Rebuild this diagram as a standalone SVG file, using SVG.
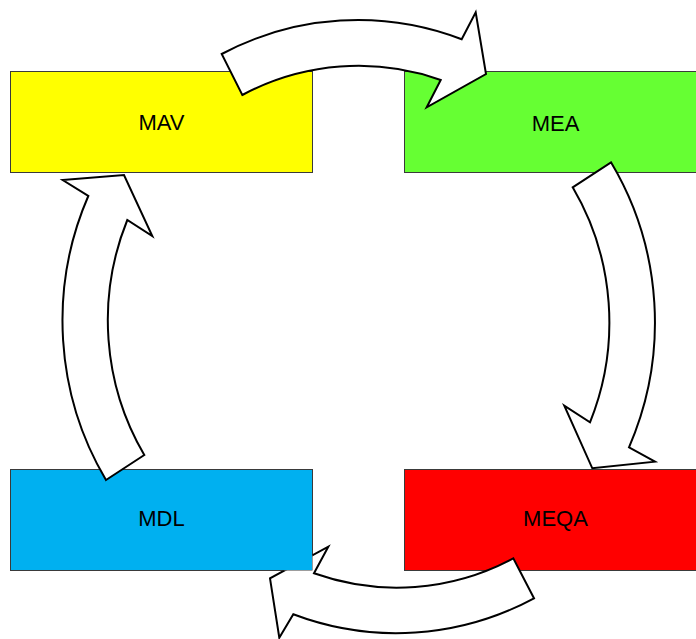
<svg xmlns="http://www.w3.org/2000/svg" width="696" height="639" viewBox="0 0 696 639">
  <style>
    .box { stroke: #3a3a3a; stroke-width: 1; }
    .label { font-family: "Liberation Sans", Arial, sans-serif; font-size: 22px; fill: #000; text-anchor: middle; }
    .arrow { fill: #fff; stroke: #000; stroke-width: 2; stroke-linejoin: miter; stroke-miterlimit: 10; }
  </style>
  <defs>
    <!-- keeps the lower arrow underneath the MDL box -->
    <clipPath id="outsideMDL">
      <path clip-rule="evenodd" d="M0,0 H696 V639 H0 Z M10.5,469.5 H312.5 V570.5 H10.5 Z"/>
    </clipPath>
  </defs>
  <rect width="696" height="639" fill="#fff"/>

  <g id="node-mav">
    <rect class="box" x="10.5" y="71.5" width="302" height="101" fill="#ffff00"/>
    <text class="label" x="161.5" y="129.5">MAV</text>
  </g>
  <g id="node-mea">
    <rect class="box" x="404.5" y="71.5" width="302" height="101" fill="#66ff33"/>
    <text class="label" x="555.5" y="130.5">MEA</text>
  </g>
  <g id="node-meqa">
    <rect class="box" x="404.5" y="469.5" width="302" height="101" fill="#ff0000"/>
    <text class="label" x="555.5" y="526">MEQA</text>
  </g>
  <g id="node-mdl">
    <rect class="box" x="10.5" y="469.5" width="302" height="101" fill="#00b0f0"/>
    <text class="label" x="161.5" y="526">MDL</text>
  </g>

  <g id="connectors">
    <!-- MAV -> MEA -->
    <path class="arrow" d="M221.7,54 A297.5,306 0 0 1 461.7,39.3 L475.7,12.3 L486,74 L426.7,107.3 L440.7,80 A253,260.5 0 0 0 242.3,95 Z"/>
    <!-- MEA -> MEQA -->
    <path class="arrow" d="M611,162.3 A297.5,306 0 0 1 629,447.3 L655,461.7 L592.3,468.3 L564.3,405.7 L590,422.3 A253,260.5 0 0 0 572.7,187.3 Z"/>
    <!-- MEQA -> MDL -->
    <path class="arrow" clip-path="url(#outsideMDL)" d="M534,598.3 L513.3,558.3 A253,260.5 0 0 1 314,573.3 L328.3,546.7 L270,578.3 L279.3,637.7 L293.3,614.3 A297.5,306 0 0 0 534,598.3 Z"/>
    <!-- MDL -> MAV -->
    <path class="arrow" d="M106,480 L144.3,455 A253,260.5 0 0 1 127.3,220 L152.3,236 L124,175 L62.7,180 L88.3,196 A297.5,306 0 0 0 106,480 Z"/>
  </g>
</svg>
